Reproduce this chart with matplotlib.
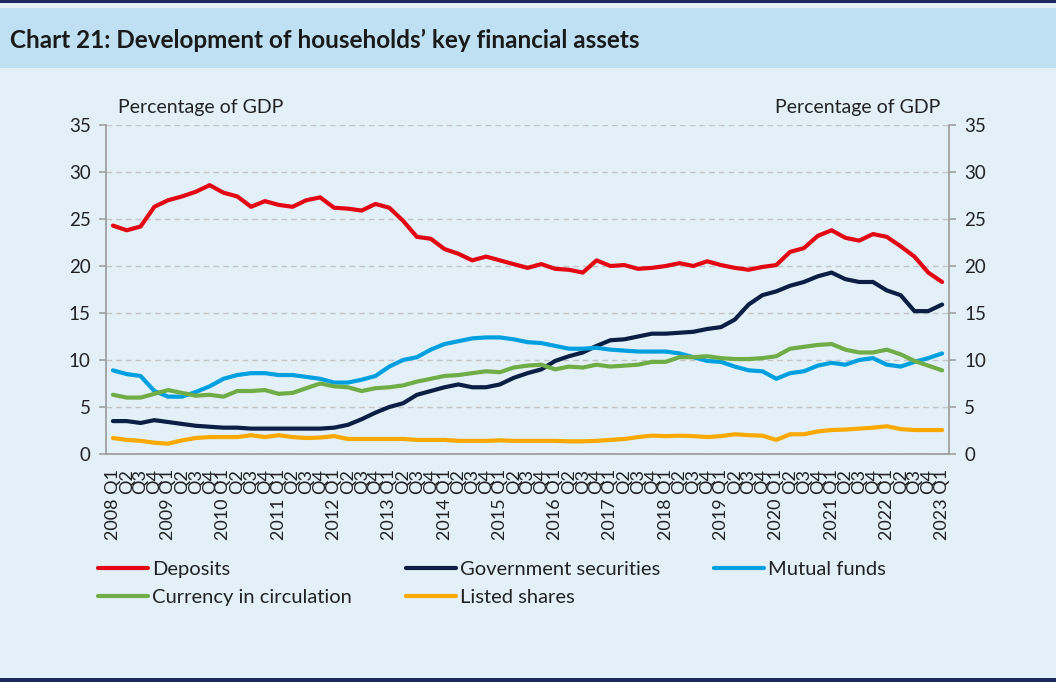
import matplotlib
matplotlib.use("Agg")
import matplotlib.pyplot as plt
from matplotlib.patches import Rectangle
import numpy as np

plt.rcParams['font.family'] = ['Lato', 'DejaVu Sans']

years = list(range(2008, 2024))
quarters = []
for y in years:
    for q in range(1, 5):
        if y == 2023 and q > 1:
            break
        quarters.append(f"{y} Q{q}" if q == 1 else f"Q{q}")

deposits = [24.3, 23.8, 24.2, 26.3, 27.0, 27.4, 27.9, 28.6, 27.8, 27.4, 26.3, 26.9,
            26.5, 26.3, 27.0, 27.3, 26.2, 26.1, 25.9, 26.6, 26.2, 24.8, 23.1, 22.9,
            21.8, 21.3, 20.6, 21.0, 20.6, 20.2, 19.8, 20.2, 19.7, 19.6, 19.3, 20.6,
            20.0, 20.1, 19.7, 19.8, 20.0, 20.3, 20.0, 20.5, 20.1, 19.8, 19.6, 19.9,
            20.1, 21.5, 21.9, 23.2, 23.8, 23.0, 22.7, 23.4, 23.1, 22.1, 21.0, 19.3, 18.3]
gov_securities = [3.5, 3.5, 3.3, 3.6, 3.4, 3.2, 3.0, 2.9, 2.8, 2.8, 2.7, 2.7,
                  2.7, 2.7, 2.7, 2.7, 2.8, 3.1, 3.7, 4.4, 5.0, 5.4, 6.3, 6.7,
                  7.1, 7.4, 7.1, 7.1, 7.4, 8.1, 8.6, 9.0, 9.9, 10.4, 10.8, 11.5,
                  12.1, 12.2, 12.5, 12.8, 12.8, 12.9, 13.0, 13.3, 13.5, 14.3, 15.9, 16.9,
                  17.3, 17.9, 18.3, 18.9, 19.3, 18.6, 18.3, 18.3, 17.4, 16.9, 15.2, 15.2, 15.9]
mutual_funds = [8.9, 8.5, 8.3, 6.7, 6.1, 6.1, 6.6, 7.2, 8.0, 8.4, 8.6, 8.6,
                8.4, 8.4, 8.2, 8.0, 7.6, 7.6, 7.9, 8.3, 9.3, 10.0, 10.3, 11.1,
                11.7, 12.0, 12.3, 12.4, 12.4, 12.2, 11.9, 11.8, 11.5, 11.2, 11.2, 11.3,
                11.1, 11.0, 10.9, 10.9, 10.9, 10.7, 10.3, 9.9, 9.8, 9.3, 8.9, 8.8,
                8.0, 8.6, 8.8, 9.4, 9.7, 9.5, 10.0, 10.2, 9.5, 9.3, 9.8, 10.2, 10.7]
currency = [6.3, 6.0, 6.0, 6.4, 6.8, 6.5, 6.2, 6.3, 6.1, 6.7, 6.7, 6.8,
            6.4, 6.5, 7.0, 7.5, 7.2, 7.1, 6.7, 7.0, 7.1, 7.3, 7.7, 8.0,
            8.3, 8.4, 8.6, 8.8, 8.7, 9.2, 9.4, 9.5, 9.0, 9.3, 9.2, 9.5,
            9.3, 9.4, 9.5, 9.8, 9.8, 10.3, 10.3, 10.4, 10.2, 10.1, 10.1, 10.2,
            10.4, 11.2, 11.4, 11.6, 11.7, 11.1, 10.8, 10.8, 11.1, 10.6, 9.9, 9.4, 8.9]
listed_shares = [1.7, 1.5, 1.4, 1.2, 1.1, 1.45, 1.7, 1.8, 1.8, 1.8, 2.0, 1.8,
                 2.0, 1.8, 1.7, 1.75, 1.9, 1.6, 1.6, 1.6, 1.6, 1.6, 1.5, 1.5,
                 1.5, 1.4, 1.4, 1.4, 1.45, 1.4, 1.4, 1.4, 1.4, 1.35, 1.35, 1.4,
                 1.5, 1.6, 1.8, 1.95, 1.9, 1.95, 1.9, 1.8, 1.9, 2.1, 2.0, 1.95,
                 1.5, 2.1, 2.1, 2.4, 2.55, 2.6, 2.7, 2.8, 2.95, 2.65, 2.55, 2.55, 2.55]

series = [
    ("Deposits", deposits, "#E30613"),
    ("Government securities", gov_securities, "#0B1F45"),
    ("Mutual funds", mutual_funds, "#00A0E0"),
    ("Currency in circulation", currency, "#70AD47"),
    ("Listed shares", listed_shares, "#F9A800"),
]

W, H = 1056, 682
fig = plt.figure(figsize=(W / 100, H / 100), dpi=100)
fig.patch.set_facecolor("#E3F0F7")
fig.patches.append(Rectangle((0, 1 - 68 / H), 1, (68 - 8) / H, transform=fig.transFigure,
                             facecolor="#BEE0F2", edgecolor="none", zorder=0))
fig.patches.append(Rectangle((0, 1 - 3 / H), 1, 3 / H, transform=fig.transFigure,
                             facecolor="#1B2A5C", edgecolor="none", zorder=1))
fig.patches.append(Rectangle((0, 0), 1, 4 / H, transform=fig.transFigure,
                             facecolor="#1B2A5C", edgecolor="none", zorder=1))
fig.text(10 / W, 1 - 40 / H, "Chart 21: Development of households\u2019 key financial assets",
         fontsize=17.5, fontweight="bold", color="#1A1A1A", va="center", ha="left")

ax = fig.add_axes([106 / W, 1 - 454 / H, (949 - 106) / W, (454 - 125) / H])
ax.set_facecolor("none")
x = np.arange(len(quarters))
handles = []
for name, vals, col in series:
    h, = ax.plot(x, vals, color=col, lw=3.0, label=name, solid_capstyle="round",
                 solid_joinstyle="round", zorder=3)
    handles.append(h)

ax.set_xlim(-0.5, len(quarters) - 0.5)
ax.set_ylim(0, 35)
ax.set_yticks(range(0, 36, 5))
ax.grid(axis="y", color="#C4C4C4", linestyle=(0, (4, 3)), lw=1.0, zorder=1)
ax.spines["top"].set_visible(False)
for s in ["left", "right", "bottom"]:
    ax.spines[s].set_color("#A0A0A0")
    ax.spines[s].set_linewidth(1.3)
ax.tick_params(axis="y", which="both", left=True, right=True, labelleft=True, labelright=True,
               direction="out", length=5, width=1.2, color="#A0A0A0", labelsize=13.5,
               labelcolor="#222222", pad=6)
ax.set_xticks(x)
ax.set_xticklabels(quarters, rotation=90, fontsize=13, color="#222222")
ax.tick_params(axis="x", length=0, pad=11)

fig.text(118 / W, 1 - 108 / H, "Percentage of GDP", fontsize=14, color="#222222",
         ha="left", va="center")
fig.text(940 / W, 1 - 108 / H, "Percentage of GDP", fontsize=14, color="#222222",
         ha="right", va="center")

# legend entries: (series index, left x px, center y px)
legend_pos = [(0, 98, 569), (1, 406, 569), (2, 714, 569), (3, 98, 597), (4, 406, 597)]
for idx, lx, ly in legend_pos:
    leg = fig.legend([handles[idx]], [series[idx][0]], loc="center left",
                     bbox_to_anchor=(lx / W, 1 - ly / H), frameon=False, fontsize=14.5,
                     handlelength=2.5, handletextpad=0.2, borderpad=0, borderaxespad=0)
    for t in leg.get_texts():
        t.set_color("#222222")

fig.savefig("out.png", dpi=100, facecolor=fig.get_facecolor())
